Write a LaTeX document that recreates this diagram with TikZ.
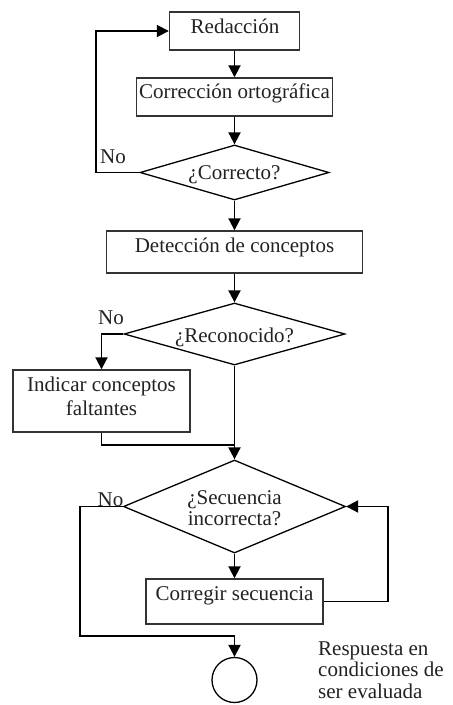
\documentclass[tikz,border=0pt]{standalone}
\usepackage{fontspec}
\setmainfont{Liberation Serif}
\usetikzlibrary{arrows.meta,shapes.geometric}
\definecolor{txtc}{HTML}{222222}
\definecolor{boxc}{HTML}{333333}
\tikzset{
  box/.style={draw=boxc,line width=1.4pt,inner sep=0pt,rectangle},
  dia/.style={draw=black,line width=1.3pt,inner sep=0pt,diamond},
  txt/.style={text=txtc,inner sep=0pt,font=\fontsize{21}{24}\selectfont},
  ln/.style={draw=black,line width=1.9pt},
  arr/.style={ln,-{Triangle[width=12pt,length=12pt]}},
}
\begin{document}
\begin{tikzpicture}[x=1pt,y=-1pt]
\useasboundingbox (0,0) rectangle (453,705);
% boxes
\node[box,minimum width=130pt,minimum height=38pt] (red) at (234.5,31) {};
\node[box,minimum width=196pt,minimum height=38pt] (cor) at (234.5,97) {};
\node[dia,minimum width=189pt,minimum height=55pt] (d1) at (234.5,172.5) {};
\node[box,minimum width=256pt,minimum height=42pt] (det) at (234.5,252) {};
\node[dia,minimum width=221pt,minimum height=62pt] (d2) at (234.5,334) {};
\node[box,minimum width=177pt,minimum height=62pt] (ind) at (101.5,401) {};
\node[dia,minimum width=222pt,minimum height=93pt] (d3) at (234.5,506.5) {};
\node[box,minimum width=177pt,minimum height=45pt] (cs) at (234.5,601.5) {};
\node[draw=black,line width=1.3pt,circle,inner sep=0pt,minimum size=45pt] (end) at (234.5,680) {};
% texts (multi-line nodes: base = last line)
\node[txt,anchor=base] (redT) at (235,33) {Redacción};
\node[txt,anchor=base] (corT) at (234.5,98) {Corrección ortográfica};
\node[txt,anchor=base] (d1T) at (234.5,179) {¿Correcto?};
\node[txt,anchor=base] (detT) at (234.5,252) {Detección de conceptos};
\node[txt,anchor=base] (d2T) at (234.5,342) {¿Reconocido?};
\node[txt,anchor=base,align=center] (indT) at (101.5,415) {Indicar conceptos\\faltantes};
\node[txt,anchor=base,align=center,font=\fontsize{21}{21}\selectfont] (d3T) at (234.5,525) {¿Secuencia\\incorrecta?};
\node[txt,anchor=base] (csT) at (234.5,600) {Corregir secuencia};
\node[txt,anchor=base] (no1) at (113,163) {No};
\node[txt,anchor=base] (no2) at (111,324) {No};
\node[txt,anchor=base] (no3) at (110.5,506) {No};
\node[txt,anchor=base west,align=left,font=\fontsize{21}{21.5}\selectfont] (resp) at (318,698) {Respuesta en\\condiciones de\\ser evaluada};
% helper coordinates
\coordinate (l1) at (96,0);
\coordinate (j1) at (234.5,445);
\coordinate (r3) at (388,0);
\coordinate (l3) at (80,0);
\coordinate (j3) at (234.5,636);
% connectors
\draw[arr] (red.south) -- (cor.north);
\draw[arr] (cor.south) -- (d1.north);
\draw[arr] (d1.west) -- (d1.west -| l1) |- (red.west);
\draw[arr] (d1.south) -- (det.north);
\draw[arr] (det.south) -- (d2.north);
\draw[arr] (d2.west) -| (ind.north);
\draw[arr] (d2.south) -- (d3.north);
\draw[ln] (ind.south) |- (j1);
\draw[arr] (d3.south) -- (cs.north);
\draw[arr] (cs.east) -- (cs.east -| r3) |- (d3.east);
\draw[arr] (d3.west) -- (d3.west -| l3) |- (j3) -- (end.north);
\end{tikzpicture}
\end{document}
